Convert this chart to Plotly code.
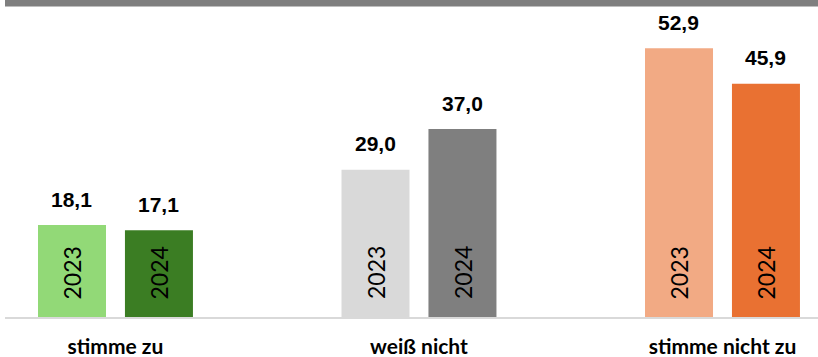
import plotly.graph_objects as go

categories = ["stimme zu", "weiß nicht", "stimme nicht zu"]
years = ["2023", "2024"]
values_2023 = [18.1, 29.0, 52.9]
values_2024 = [17.1, 37.0, 45.9]
colors_2023 = ["#92D977", "#D9D9D9", "#F2AA84"]
colors_2024 = ["#3B7D23", "#7F7F7F", "#E97132"]

series = [(years[0], values_2023, colors_2023), (years[1], values_2024, colors_2024)]

fig = go.Figure()
for name, vals, cols in series:
    fig.add_trace(go.Bar(
        x=categories, y=vals, name=name,
        marker=dict(color=cols, line=dict(width=0)),
        hoverinfo="skip",
    ))

offsets = [-43.5, 43.5]
label_font = dict(family="Liberation Sans, Arial, sans-serif", size=21, color="#000000")
year_font = dict(family="Lato, Carlito, sans-serif", size=23, color="#000000")
for (name, vals, cols), dx in zip(series, offsets):
    for cat, v in zip(categories, vals):
        fig.add_annotation(
            x=cat, y=v, xref="x", yref="y", xshift=dx, yshift=26,
            text="<b>" + f"{v:.1f}".replace(".", ",") + "</b>",
            showarrow=False, xanchor="center", yanchor="middle", font=label_font,
        )
        fig.add_annotation(
            x=cat, y=0, xref="x", yref="y", xshift=dx, yshift=44.5,
            text=name, textangle=-90,
            showarrow=False, xanchor="center", yanchor="middle", font=year_font,
        )

# dark header band at top
fig.add_shape(type="rect", xref="paper", yref="paper", x0=0, x1=1,
              y0=1 - 6.5 / 317, y1=1.02, fillcolor="#7F7F7F", line=dict(width=0), layer="above")

fig.update_layout(
    width=818, height=357,
    margin=dict(l=5, r=0, t=0, b=40, autoexpand=False),
    paper_bgcolor="white", plot_bgcolor="white",
    barmode="group", bargap=0.427, bargroupgap=0.218,
    showlegend=False,
    xaxis=dict(
        type="category", range=[-0.364, 2.3147], automargin=False,
        showline=True, linecolor="#D9D9D9", linewidth=2,
        showgrid=False, ticks="", zeroline=False,
        tickfont=dict(family="Lato, Carlito, sans-serif", size=21, color="#000000", weight="bold"),
        ticklabelstandoff=10,
    ),
    yaxis=dict(range=[0, 62.4], visible=False, showgrid=False, zeroline=False, automargin=False),
)

fig.write_html("out.html", config={"displayModeBar": False},
               post_script="document.body.style.margin='0';document.body.style.overflow='hidden';")
